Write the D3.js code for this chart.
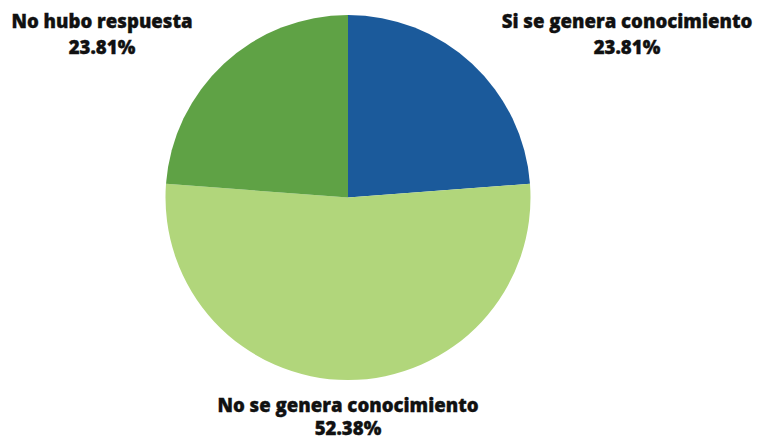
<!DOCTYPE html>
<html>
<head>
<meta charset="utf-8">
<script src="https://cdn.jsdelivr.net/npm/d3@7"></script>
<style>
html,body{margin:0;padding:0;background:#fff;}
svg{display:block;}
text{font-family:"Open Sans",sans-serif;font-weight:800;fill:#111;}
</style>
</head>
<body>
<svg id="chart" width="758" height="441"></svg>
<script>
const categories = ["Si se genera conocimiento", "No se genera conocimiento", "No hubo respuesta"];
const values = [23.81, 52.38, 23.81];
const colors = ["#1b5a9b", "#b1d67b", "#5fa245"];

const svg = d3.select("#chart");
const cx = 348, cy = 197.5, r = 182.5;
const g = svg.append("g").attr("transform", `translate(${cx},${cy})`);

const pie = d3.pie().sort(null).value(d => d.v);
const data = categories.map((c, i) => ({c, v: values[i], col: colors[i]}));
const arcs = pie(data);
const arc = d3.arc().innerRadius(0).outerRadius(r);

g.selectAll("path").data(arcs).enter().append("path")
  .attr("d", arc).attr("fill", d => d.data.col);

// label positions (relative to centre)
const labelPos = [
  {x: 627 - cx, y: 28 - cy, dy: 26},
  {x: 348 - cx, y: 412 - cy, dy: 23},
  {x: 102 - cx, y: 28 - cy, dy: 26}
];
const fmt = v => v.toFixed(2) + "%";
const lab = g.selectAll("text.lbl").data(arcs).enter().append("text")
  .attr("class", "lbl")
  .attr("text-anchor", "middle")
  .attr("font-size", 18.6)
  .attr("stroke", "#111").attr("stroke-width", 0.35)
  .attr("x", (d, i) => labelPos[i].x)
  .attr("y", (d, i) => labelPos[i].y);
lab.append("tspan").text(d => d.data.c);
lab.append("tspan").attr("x", (d, i) => labelPos[i].x).attr("dy", (d, i) => labelPos[i].dy).text(d => fmt(d.data.v));
</script>
</body>
</html>
